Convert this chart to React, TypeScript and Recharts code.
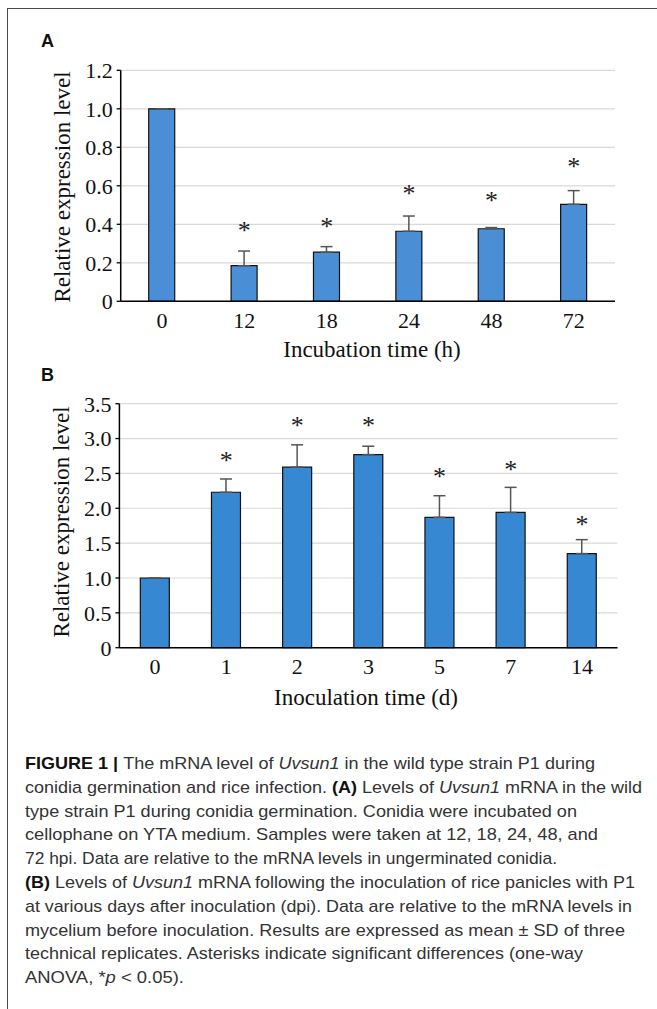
import React from 'react';
import { ComposedChart, Bar, Line, XAxis, YAxis, CartesianGrid, ErrorBar } from 'recharts';

const serif = '"Liberation Serif", "Times New Roman", Times, serif';
const sans = '"Liberation Sans", Arial, Helvetica, sans-serif';

// Panel A
const catsA = ['0', '12', '18', '24', '48', '72'];
const valsA = [1.0, 0.185, 0.255, 0.364, 0.377, 0.504];
const sdA = [0, 0.076, 0.029, 0.079, 0.006, 0.071];
const starA = [null, 0.386, 0.407, 0.578, 0.543, 0.718];
const ticksA = [0, 0.2, 0.4, 0.6, 0.8, 1.0, 1.2];

// Panel B
const catsB = ['0', '1', '2', '3', '5', '7', '14'];
const valsB = [1.0, 2.23, 2.59, 2.77, 1.87, 1.94, 1.35];
const sdB = [0, 0.19, 0.32, 0.12, 0.31, 0.36, 0.2];
const starB = [null, 2.73, 3.24, 3.24, 2.5, 2.61, 1.82];
const ticksB = [0, 0.5, 1.0, 1.5, 2.0, 2.5, 3.0, 3.5];

const dataA = catsA.map((c, i) => ({ cat: c, v: valsA[i], e: [0, sdA[i]], star: starA[i] }));
const dataB = catsB.map((c, i) => ({ cat: c, v: valsB[i], e: [0, sdB[i]], star: starB[i] }));

const fmt = (v: number) => (v === 0 ? '0' : v.toFixed(1));

function StarDot(props: any) {
  const { cx, cy, value, index } = props;
  if (value == null || cx == null || cy == null || isNaN(cy)) return <g key={'s' + index} />;
  return (
    <text key={'s' + index} x={cx} y={cy + 12} textAnchor="middle" fontFamily={serif} fontSize={26} fill="#222">
      *
    </text>
  );
}

type PanelProps = {
  data: any[];
  ticks: number[];
  fill: string;
  gap: string;
  margin: { top: number; right: number; bottom: number; left: number };
  yWidth: number;
  width: number;
  height: number;
};

function Panel({ data, ticks, fill, gap, margin, yWidth, width, height }: PanelProps) {
  const n = data.length;
  const bounds = data.map((_, i) => i).concat([n]);
  return (
    <ComposedChart width={width} height={height} data={data} margin={margin} barCategoryGap={gap}>
      <CartesianGrid xAxisId="c" yAxisId="y" horizontal vertical={false} stroke="#d9d9d9" strokeWidth={1.2} />
      <XAxis
        xAxisId="b"
        type="number"
        domain={[0, n]}
        ticks={bounds}
        tick={false}
        axisLine={false}
        tickLine={{ stroke: '#000', strokeWidth: 1.3 }}
        tickSize={5}
        height={0}
        allowDataOverflow
      />
      <XAxis
        xAxisId="c"
        dataKey="cat"
        type="category"
        height={40}
        tickLine={false}
        axisLine={{ stroke: '#000', strokeWidth: 1.5 }}
        tickSize={6}
        tickMargin={5}
        tick={{ fill: '#111', fontFamily: serif, fontSize: 22 }}
        interval={0}
      />
      <YAxis
        yAxisId="y"
        domain={[ticks[0], ticks[ticks.length - 1]]}
        ticks={ticks}
        tickFormatter={fmt}
        width={yWidth}
        axisLine={{ stroke: '#000', strokeWidth: 1.5 }}
        tickLine={{ stroke: '#000', strokeWidth: 1.3 }}
        tickSize={4}
        tickMargin={4}
        tick={{ fill: '#111', fontFamily: serif, fontSize: 22 }}
        interval={0}
      />
      <Bar xAxisId="c" yAxisId="y" dataKey="v" fill={fill} stroke="#111" strokeWidth={1.2} isAnimationActive={false}>
        <ErrorBar dataKey="e" direction="y" width={6} stroke="#555" strokeWidth={1.5} />
      </Bar>
      <Line
        xAxisId="c"
        yAxisId="y"
        dataKey="star"
        stroke="none"
        dot={StarDot}
        activeDot={false}
        legendType="none"
        isAnimationActive={false}
      />
    </ComposedChart>
  );
}

type Seg = [string, string?];
const caption: Seg[][] = [
  [['FIGURE 1 | ', 'b'], ['The mRNA level of '], ['Uvsun1', 'i'], [' in the wild type strain P1 during']],
  [['conidia germination and rice infection. '], ['(A)', 'b'], [' Levels of '], ['Uvsun1', 'i'], [' mRNA in the wild']],
  [['type strain P1 during conidia germination. Conidia were incubated on']],
  [['cellophane on YTA medium. Samples were taken at 12, 18, 24, 48, and']],
  [['72 hpi. Data are relative to the mRNA levels in ungerminated conidia.']],
  [['(B)', 'b'], [' Levels of '], ['Uvsun1', 'i'], [' mRNA following the inoculation of rice panicles with P1']],
  [['at various days after inoculation (dpi). Data are relative to the mRNA levels in']],
  [['mycelium before inoculation. Results are expressed as mean \u00b1 SD of three']],
  [['technical replicates. Asterisks indicate significant differences (one-way']],
  [['ANOVA, *'], ['p', 'i'], [' < 0.05).']],
];
const captionWidths = [570, 617, 552, 573, 532, 610, 607, 600, 558, 159];

export default function App() {
  return (
    <div style={{ position: 'absolute', left: 0, top: 0, width: 657, height: 1009, background: '#fff', overflow: 'hidden' }}>
      <div
        style={{
          position: 'absolute',
          left: 7,
          top: 8,
          width: 700,
          height: 1100,
          borderTop: '1.5px solid #4a4a4a',
          borderLeft: '1.5px solid #4a4a4a',
        }}
      />
      <div style={{ position: 'absolute', left: 0, top: 0 }}>
        <Panel
          data={dataA}
          ticks={ticksA}
          fill="#4a8fd6"
          gap="34%"
          margin={{ top: 70.3, right: 42, bottom: 18.7, left: 20 }}
          yWidth={100.7}
          width={657}
          height={360}
        />
      </div>
      <div style={{ position: 'absolute', left: 0, top: 360 }}>
        <Panel
          data={dataB}
          ticks={ticksB}
          fill="#3788d2"
          gap="29.4%"
          margin={{ top: 43.7, right: 39.5, bottom: 32.3, left: 20 }}
          yWidth={99.4}
          width={657}
          height={360}
        />
      </div>
      <svg width={657} height={1009} style={{ position: 'absolute', left: 0, top: 0, pointerEvents: 'none' }}>
        <text x={41} y={47} fontFamily={sans} fontWeight="bold" fontSize={18} fill="#111">A</text>
        <text x={41} y={381} fontFamily={sans} fontWeight="bold" fontSize={18} fill="#111">B</text>
        <text
          transform="translate(62.5,187) rotate(-90)"
          textAnchor="middle"
          dominantBaseline="central"
          fontFamily={serif}
          fontSize={23}
          fill="#111"
        >
          Relative expression level
        </text>
        <text
          transform="translate(61.5,522) rotate(-90)"
          textAnchor="middle"
          dominantBaseline="central"
          fontFamily={serif}
          fontSize={23}
          fill="#111"
        >
          Relative expression level
        </text>
        <text x={372} y={357} textAnchor="middle" fontFamily={serif} fontSize={23} fill="#111">
          Incubation time (h)
        </text>
        <text x={366} y={705} textAnchor="middle" fontFamily={serif} fontSize={23} fill="#111">
          Inoculation time (d)
        </text>
        {caption.map((line, li) => (
          <text
            key={li}
            x={25}
            y={769 + li * 23.8}
            fontFamily={sans}
            fontSize={17}
            fill="#222"
            textLength={captionWidths[li]}
            lengthAdjust="spacingAndGlyphs"
          >
            {line.map(([t, s], si) => (
              <tspan
                key={si}
                fontWeight={s === 'b' ? 'bold' : 'normal'}
                fontStyle={s === 'i' ? 'italic' : 'normal'}
                fill={s === 'b' ? '#111' : '#333'}
              >
                {t}
              </tspan>
            ))}
          </text>
        ))}
      </svg>
    </div>
  );
}
